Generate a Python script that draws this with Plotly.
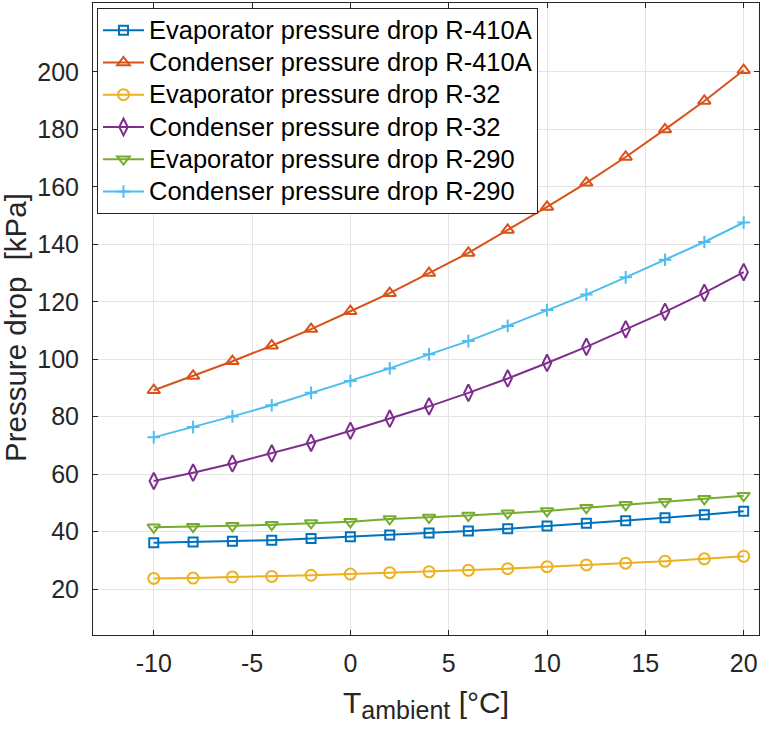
import plotly.graph_objects as go

T_amb = [-10, -8, -6, -4, -2, 0, 2, 4, 6, 8, 10, 12, 14, 16, 18, 20]

evap_r410a = [36.1, 36.4, 36.6, 37.0, 37.6, 38.2, 38.8, 39.5, 40.2, 41.0, 41.9, 42.9, 43.8, 44.8, 45.9, 47.1]
cond_r410a = [89.2, 94.2, 99.3, 104.7, 110.5, 116.7, 123.0, 130.0, 137.0, 145.0, 153.0, 161.4, 170.4, 180.0, 189.9, 200.6]
evap_r32 = [23.7, 23.8, 24.2, 24.4, 24.8, 25.2, 25.7, 26.0, 26.5, 27.1, 27.8, 28.4, 29.0, 29.7, 30.5, 31.4]
cond_r32 = [57.6, 60.5, 63.7, 67.2, 70.9, 75.1, 79.3, 83.6, 88.3, 93.3, 98.7, 104.3, 110.4, 116.5, 123.1, 130.3]
evap_r290 = [41.5, 41.7, 42.0, 42.4, 43.0, 43.4, 44.4, 44.9, 45.6, 46.4, 47.2, 48.3, 49.3, 50.4, 51.4, 52.5]
cond_r290 = [72.8, 76.4, 80.1, 84.0, 88.3, 92.4, 96.8, 101.7, 106.3, 111.6, 117.1, 122.5, 128.5, 134.6, 140.8, 147.6]

x_ticks = [-10, -5, 0, 5, 10, 15, 20]
y_ticks = [20, 40, 60, 80, 100, 120, 140, 160, 180, 200]

names = ["Evaporator pressure drop R-410A", "Condenser pressure drop R-410A",
         "Evaporator pressure drop R-32", "Condenser pressure drop R-32",
         "Evaporator pressure drop R-290", "Condenser pressure drop R-290"]
series = [evap_r410a, cond_r410a, evap_r32, cond_r32, evap_r290, cond_r290]
colors = ["#0072BD", "#D95319", "#EDB120", "#7E2F8E", "#77AC30", "#4DBEEE"]
symbols = ["square-open", "triangle-up-open", "circle-open", "diamond-tall-open",
           "triangle-down-open", "cross-thin-open"]
sizes = [9, 11, 11, 12, 11, 9]

FONT = "Liberation Sans, Arial, sans-serif"
DARK = "#262626"

fig = go.Figure()
for n, s, c, sym, sz in zip(names, series, colors, symbols, sizes):
    fig.add_trace(go.Scatter(
        x=T_amb, y=s, mode="lines+markers",
        name='<span style="font-size:25.5px">' + n + '</span>',
        line=dict(color=c, width=2),
        marker=dict(symbol=sym, size=sz, color=c, line=dict(color=c, width=2)),
    ))

fig.update_layout(
    width=762, height=732,
    margin=dict(l=93, r=3, t=3, b=97),
    paper_bgcolor="white", plot_bgcolor="white",
    font=dict(family=FONT, color=DARK, size=25),
    showlegend=True,
    legend=dict(
        x=0.006, y=0.992, xanchor="left", yanchor="top",
        bgcolor="white", bordercolor=DARK, borderwidth=1,
        font=dict(family=FONT, size=22.5, color="black"),
        itemwidth=41, tracegroupgap=0,
    ),
    xaxis=dict(
        range=[-13.09, 20.78], tickvals=x_ticks, ticktext=[str(v) for v in x_ticks],
        ticks="inside", ticklen=5, tickcolor=DARK,
        showline=True, linecolor=DARK, linewidth=1, mirror="ticks",
        showgrid=True, gridcolor="#e4e4e4", gridwidth=1, zeroline=False,
        tickfont=dict(size=25, color=DARK), ticklabelstandoff=6,
        title=dict(text='T<sub><span style="font-size:25px">ambient</span></sub> [°C]',
                   font=dict(size=30, color=DARK), standoff=15),
    ),
    yaxis=dict(
        range=[4, 224], tickvals=y_ticks, ticktext=[str(v) for v in y_ticks],
        ticks="inside", ticklen=5, tickcolor=DARK,
        showline=True, linecolor=DARK, linewidth=1, mirror="ticks",
        showgrid=True, gridcolor="#e4e4e4", gridwidth=1, zeroline=False,
        tickfont=dict(size=25, color=DARK), ticklabelstandoff=8,
    ),
    annotations=[dict(
        text="Pressure drop  [kPa]", textangle=-90,
        xref="paper", yref="paper", x=0, y=(635 - 328) / 632,
        xanchor="center", yanchor="middle", xshift=-78, showarrow=False,
        font=dict(family=FONT, size=29.5, color=DARK),
    )],
)

fig.write_html("out.html")
